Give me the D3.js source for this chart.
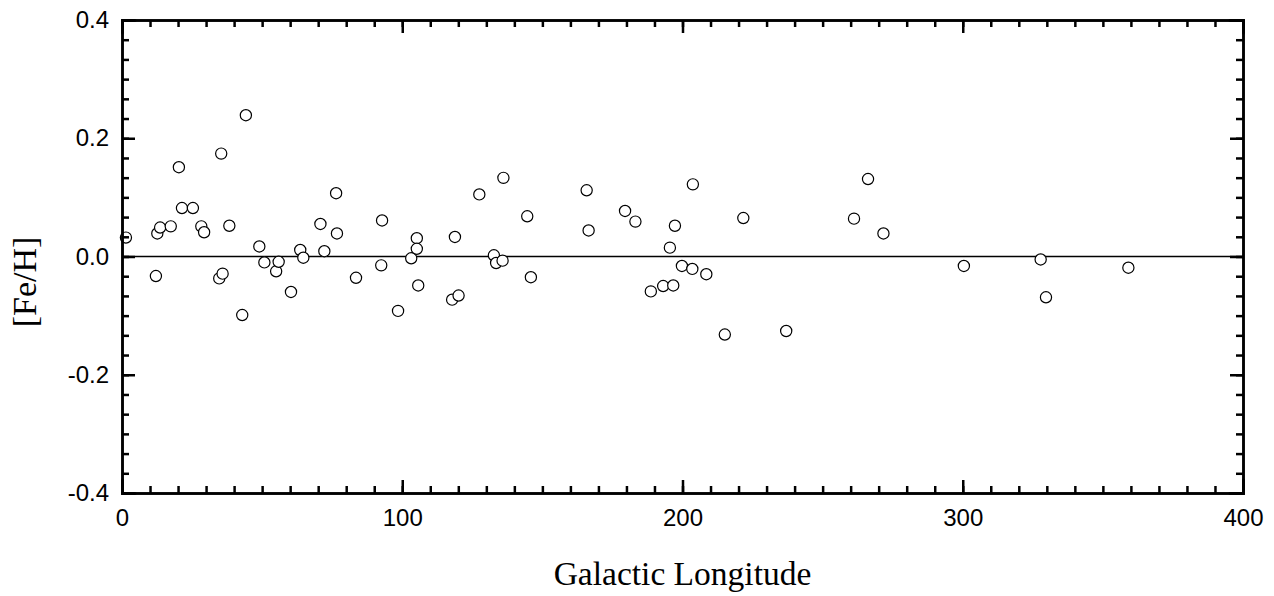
<!DOCTYPE html>
<html>
<head>
<meta charset="utf-8">
<script src="https://cdn.jsdelivr.net/npm/d3@7"></script>
<style>
  body { margin: 0; background: #fff; }
  .tick text { font-family: "Liberation Sans", Arial, sans-serif; font-size: 24px; fill: #000; }
  .axes path, .axes line { stroke: #000; stroke-width: 2.5; }
  .title { font-family: "Liberation Serif", "Times New Roman", serif; fill: #000; }
</style>
</head>
<body>
<script>
// galactic longitude (deg) and [Fe/H]
const galacticLongitude = [
  1.4, 12.1, 12.6, 13.6, 17.4, 20.3, 21.4, 25.3, 28.3, 29.3,
  35.4, 34.7, 35.9, 38.3, 42.9, 44.2, 49.0, 50.8, 55.0, 55.9,
  60.3, 63.6, 64.7, 70.8, 72.2, 76.4, 76.7, 83.5, 92.5, 92.8,
  98.5, 103.2, 105.2, 105.2, 105.7, 117.8, 118.8, 120.1, 127.5, 132.7,
  133.5, 135.8, 136.1, 144.6, 145.9, 165.8, 166.5, 179.5, 183.2, 188.7,
  193.1, 196.7, 195.5, 197.3, 199.8, 203.5, 203.7, 208.5, 215.1, 221.7,
  237.0, 261.2, 266.2, 271.7, 300.4, 327.8, 329.7, 359.1
];
const feH = [
  0.032, -0.033, 0.039, 0.049, 0.051, 0.151, 0.082, 0.082, 0.051, 0.041,
  0.174, -0.037, -0.029, 0.052, -0.099, 0.239, 0.017, -0.010, -0.025, -0.009,
  -0.060, 0.011, -0.002, 0.055, 0.009, 0.107, 0.039, -0.036, -0.015, 0.061,
  -0.092, -0.003, 0.031, 0.013, -0.049, -0.073, 0.033, -0.066, 0.105, 0.002,
  -0.011, -0.007, 0.133, 0.068, -0.035, 0.112, 0.044, 0.077, 0.059, -0.059,
  -0.050, -0.049, 0.015, 0.052, -0.016, -0.021, 0.122, -0.030, -0.132, 0.065,
  -0.126, 0.064, 0.131, 0.039, -0.016, -0.005, -0.069, -0.019
];
const xTicks = [0, 100, 200, 300, 400];
const yTicks = [-0.4, -0.2, 0.0, 0.2, 0.4];

const margin = {top: 20, right: 31, bottom: 103, left: 122},
      width = 1274 - margin.left - margin.right,
      height = 596 - margin.top - margin.bottom;

const svg = d3.select("body").append("svg")
  .attr("width", 1274)
  .attr("height", 596);

const xScale = d3.scaleLinear().domain([0, 400]).range([margin.left, margin.left + width]),
      yScale = d3.scaleLinear().domain([-0.4, 0.4]).range([margin.top + height, margin.top]);

const xMinor = d3.range(0, 401, 10),
      yMinor = d3.range(0, 25).map((i) => -0.4 + i * 0.2 / 6);

// zero reference line
svg.append("line")
  .attr("x1", xScale(0)).attr("x2", xScale(400))
  .attr("y1", yScale(0)).attr("y2", yScale(0))
  .attr("stroke", "#000")
  .attr("stroke-width", 1.3);

svg.selectAll("circle")
  .data(galacticLongitude.map((l, i) => ({l: l, fe: feH[i]}))).enter()
  .append("circle")
  .attr("cx", (d) => xScale(d.l))
  .attr("cy", (d) => yScale(d.fe))
  .attr("r", 5.6)
  .attr("fill", "#fff")
  .attr("stroke", "#000")
  .attr("stroke-width", 1.2);

// plain hyphen minus, like the original
const fmtY = (v) => (Math.abs(v) < 1e-9 ? "0.0" : v.toFixed(1));

// minor ticks, all four sides, pointing inward
svg.append("g").attr("transform", "translate(0," + (margin.top + height) + ")")
  .call(d3.axisBottom(xScale).tickValues(xMinor).tickSize(-7).tickFormat(""))
  .classed("axes", true);
svg.append("g").attr("transform", "translate(0," + margin.top + ")")
  .call(d3.axisTop(xScale).tickValues(xMinor).tickSize(-7).tickFormat(""))
  .classed("axes", true);
svg.append("g").attr("transform", "translate(" + margin.left + ",0)")
  .call(d3.axisLeft(yScale).tickValues(yMinor).tickSize(-7).tickFormat(""))
  .classed("axes", true);
svg.append("g").attr("transform", "translate(" + (margin.left + width) + ",0)")
  .call(d3.axisRight(yScale).tickValues(yMinor).tickSize(-7).tickFormat(""))
  .classed("axes", true);

// major ticks with labels
svg.append("g").attr("transform", "translate(0," + (margin.top + height) + ")")
  .call(d3.axisBottom(xScale).tickValues(xTicks).tickSize(-13).tickPadding(16).tickFormat((d) => String(d)))
  .classed("axes", true);
svg.append("g").attr("transform", "translate(0," + margin.top + ")")
  .call(d3.axisTop(xScale).tickValues(xTicks).tickSize(-13).tickFormat(""))
  .classed("axes", true);
svg.append("g").attr("transform", "translate(" + margin.left + ",0)")
  .call(d3.axisLeft(yScale).tickValues(yTicks).tickSize(-13).tickPadding(13).tickFormat(fmtY))
  .classed("axes", true);
svg.append("g").attr("transform", "translate(" + (margin.left + width) + ",0)")
  .call(d3.axisRight(yScale).tickValues(yTicks).tickSize(-13).tickFormat(""))
  .classed("axes", true);

svg.selectAll(".domain").attr("stroke-linecap", "square");

svg.append("text")
  .attr("class", "title")
  .attr("x", xScale(200))
  .attr("y", 585)
  .attr("text-anchor", "middle")
  .style("font-size", "33.5px")
  .text("Galactic Longitude");

svg.append("text")
  .attr("class", "title")
  .attr("transform", "translate(36," + 282 + ") rotate(-90)")
  .attr("text-anchor", "middle")
  .style("font-size", "34px")
  .text("[Fe/H]");
</script>
</body>
</html>
